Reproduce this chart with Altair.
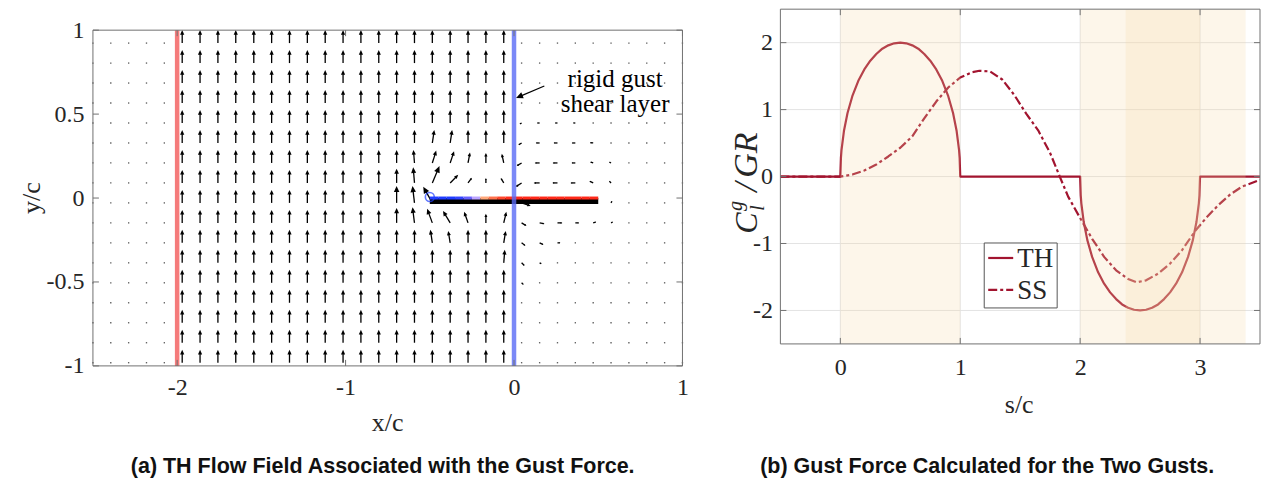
import math
import altair as alt
import pandas as pd

# ===================== data =====================
# ---- (a) flow field: quiver grid (x/c columns, y/c rows) ----
X_COLS = [-2.500, -2.394, -2.288, -2.182, -2.076, -1.970, -1.864, -1.758, -1.652,
          -1.545, -1.439, -1.333, -1.227, -1.121, -1.015, -0.909, -0.803, -0.697,
          -0.591, -0.485, -0.379, -0.273, -0.167, -0.061, 0.045, 0.152, 0.258,
          0.364, 0.470, 0.576, 0.682, 0.788, 0.894, 1.000]
Y_ROWS = [0.923, 0.804, 0.685, 0.566, 0.447, 0.328, 0.209, 0.090, -0.029,
          -0.148, -0.267, -0.386, -0.505, -0.624, -0.743, -0.862, -0.981]
GUST_EDGES = [-2.0, 0.0]          # red (entry) and blue (rigid gust shear layer)
GUST_V = 1.0                      # vertical velocity inside the gust
CALM_V = 0.08                     # residual velocity outside the gust
# (column index, row index, u, v) where the plate disturbs the field
FIELD_OVERRIDES = [
    (19, 5, 0.15, 1.0), (20, 5, 0.15, 1.0),
    (18, 6, -0.08, 1.0), (19, 6, 0.30, 0.95), (20, 6, 0.30, 0.90), (21, 6, 0.15, 0.80),
    (22, 6, 0.0, 0.77), (23, 6, -0.15, 0.70),
    (17, 7, 0.0, 1.10), (18, 7, -0.10, 1.20), (19, 7, 0.55, 1.30), (20, 7, 0.62, 0.62),
    (21, 7, 0.30, 0.40), (22, 7, 0.0, 0.38), (23, 7, -0.23, 0.38),
    (17, 8, 0.0, 1.30), (18, 8, -0.15, 1.30), (19, 8, -0.70, 1.25), (20, 8, 0.2, 0.0),
    (21, 8, 0.2, 0.0), (22, 8, 0.2, 0.0), (23, 8, 0.2, 0.0), (24, 8, 0.70, -0.23),
    (17, 9, 0.0, 1.15), (18, 9, -0.15, 1.20), (19, 9, -0.40, 1.08), (20, 9, -0.55, 0.92),
    (21, 9, -0.30, 0.85), (22, 9, 0.0, 0.70), (23, 9, 0.20, 0.85),
    (19, 10, -0.15, 1.0), (20, 10, -0.15, 0.92), (23, 10, 0.15, 0.92), (23, 11, 0.08, 1.0),
    (24, 3, -0.08, -0.05),
    (24, 4, -0.15, -0.08), (25, 4, -0.20, 0.0), (26, 4, -0.20, 0.0), (27, 4, -0.18, 0.0),
    (28, 4, -0.15, 0.0),
    (24, 5, -0.25, -0.15), (25, 5, -0.30, 0.0), (26, 5, -0.30, 0.0), (27, 5, -0.28, 0.0),
    (28, 5, -0.25, 0.02), (29, 5, -0.10, 0.05),
    (24, 6, -0.38, -0.23), (25, 6, -0.38, 0.0), (26, 6, -0.38, 0.0), (27, 6, -0.30, 0.0),
    (28, 6, -0.23, 0.08), (29, 6, -0.15, 0.08), (30, 6, -0.08, 0.05),
    (24, 7, -0.46, -0.30), (25, 7, -0.46, 0.0), (26, 7, -0.40, 0.0), (27, 7, -0.38, 0.0),
    (28, 7, -0.30, 0.15), (29, 7, -0.15, 0.15), (30, 7, -0.08, 0.08),
    (29, 8, 0.08, 0.15), (30, 8, 0.05, 0.10),
    (24, 9, 0.38, -0.23), (25, 9, 0.38, -0.08), (26, 9, 0.38, 0.0), (27, 9, 0.30, 0.0),
    (28, 9, 0.23, 0.08), (29, 9, 0.15, 0.08), (30, 9, 0.08, 0.08),
    (24, 10, 0.30, -0.23), (25, 10, 0.30, -0.15), (26, 10, 0.23, 0.0), (27, 10, 0.15, 0.0),
    (24, 11, 0.23, -0.23), (25, 11, 0.15, -0.08), (24, 12, 0.15, -0.15),
]
# plate (x/c from -0.5 to 0.5) and its colour-coded loading
PLATE_X = [-0.50, -0.45, -0.40, -0.35, -0.30, -0.25, -0.20, -0.15, -0.10, -0.05, 0.00,
           0.05, 0.10, 0.15, 0.20, 0.25, 0.30, 0.35, 0.40, 0.45, 0.50]
PLATE_LOAD = [-1.0, -1.0, -1.0, -1.0, -0.9, -0.6, -0.1, 0.35, 0.7, 0.95, 1.0,
              1.0, 1.0, 1.0, 1.0, 1.0, 1.0, 1.0, 1.0, 1.0, 1.0]
PLATE_Y = 0.0
ANNOT_LINES = ["rigid gust", "shear layer"]
ANNOT_TEXT_X = 0.60
ANNOT_TEXT_Y = [0.663, 0.512]
ANNOT_ARROW = [(0.18, 0.667), (0.012, 0.596)]   # tail, tip

# ---- (b) gust force ----
TH_S = [-0.5, 0.0, 0.005, 0.01, 0.03, 0.06, 0.1, 0.15, 0.2, 0.25, 0.3, 0.35, 0.4, 0.45, 0.5,
        0.55, 0.6, 0.65, 0.7, 0.75, 0.8, 0.85, 0.9, 0.94, 0.97, 0.99, 0.995, 1.0,
        2.0, 2.005, 2.01, 2.03, 2.06, 2.1, 2.15, 2.2, 2.25, 2.3, 2.35, 2.4, 2.45, 2.5,
        2.55, 2.6, 2.65, 2.7, 2.75, 2.8, 2.85, 2.9, 2.94, 2.97, 2.99, 2.995, 3.0, 3.5]
TH_V = [0.0, 0.0, 0.28, 0.4, 0.68, 0.95, 1.2, 1.43, 1.6, 1.73, 1.83, 1.91, 1.96, 1.99, 2.0,
        1.99, 1.96, 1.91, 1.83, 1.73, 1.6, 1.43, 1.2, 0.95, 0.68, 0.4, 0.28, 0.0,
        0.0, -0.28, -0.4, -0.68, -0.95, -1.2, -1.43, -1.6, -1.73, -1.83, -1.91, -1.96, -1.99, -2.0,
        -1.99, -1.96, -1.91, -1.83, -1.73, -1.6, -1.43, -1.2, -0.95, -0.68, -0.4, -0.28, 0.0, 0.0]
SS_S = [-0.5, 0.0, 0.1, 0.2, 0.3, 0.4, 0.5, 0.6, 0.7, 0.8, 0.9, 1.0, 1.1, 1.16, 1.25, 1.35,
        1.45, 1.55, 1.65, 1.75, 1.83, 1.9, 2.0, 2.1, 2.2, 2.3, 2.4, 2.47, 2.55, 2.65, 2.75,
        2.85, 2.96, 3.05, 3.15, 3.25, 3.35, 3.5]
SS_V = [0.0, 0.0, 0.03, 0.09, 0.18, 0.3, 0.43, 0.6, 0.87, 1.12, 1.33, 1.48, 1.56, 1.58, 1.57,
        1.45, 1.22, 0.94, 0.69, 0.35, 0.0, -0.3, -0.62, -0.93, -1.2, -1.4, -1.53, -1.58, -1.55,
        -1.45, -1.3, -1.1, -0.81, -0.62, -0.43, -0.27, -0.15, -0.05]
GUST_WINDOWS = [(0.0, 1.0), (2.0, 3.0), (2.38, 3.38)]
S_TICKS = [0, 1, 2, 3]
C_TICKS = [-2, -1, 0, 1, 2]
XA_TICKS = [-2, -1, 0, 1]
YA_TICKS = [-1, -0.5, 0, 0.5, 1]
SERIES = ["TH", "SS"]

# ===================== layout / style =====================
SERIF = "Liberation Serif"
SANS = "Liberation Sans"
INK = "#262626"
FRAME = "#707070"
CRIMSON = "#A2142F"
SS_DASH = [9, 3, 3, 3]
A_W, A_H, A_TOP = 590, 357, 21
B_W, B_H = 480, 335
A_XD, A_YD = [-2.5, 1.0], [-1.0, 1.0]
B_XD, B_YD = [-0.5, 3.5], [-2.5, 2.5]
PX_AX = A_W / (A_XD[1] - A_XD[0])
PX_AY = (A_H - A_TOP) / (A_YD[1] - A_YD[0])
PX_BX = B_W / (B_XD[1] - B_XD[0])
PX_BY = B_H / (B_YD[1] - B_YD[0])
ARROW_PX = 13.0
TICK_PX = 6.0
MINUS = "replace(datum.label, '\u2212', '-')"

XS_A = alt.Scale(domain=A_XD, nice=False, zero=False)
YS_A = alt.Scale(domain=A_YD, range=[A_H, A_TOP], nice=False, zero=False)
XS_B = alt.Scale(domain=B_XD, nice=False, zero=False)
YS_B = alt.Scale(domain=B_YD, nice=False, zero=False)


def make_axis(values, pad):
    return alt.Axis(values=values, ticks=False, domain=False, grid=False, labelPadding=pad,
                    labelFlush=False, labelOverlap=False, format="~g", labelFont=SERIF,
                    labelFontSize=24, labelColor=INK, labelExpr=MINUS, title=None)


AXA_X = make_axis(XA_TICKS, 10)
AXA_Y = make_axis(YA_TICKS, 9)
AXB_X = make_axis(S_TICKS, 12)
AXB_Y = make_axis(C_TICKS, 8)


def XA(f):
    return alt.X(f, type="quantitative", scale=XS_A, axis=AXA_X)


def YA(f):
    return alt.Y(f, type="quantitative", scale=YS_A, axis=AXA_Y)


def XB(f):
    return alt.X(f, type="quantitative", scale=XS_B, axis=AXB_X)


def YB(f):
    return alt.Y(f, type="quantitative", scale=YS_B, axis=AXB_Y)


def arrow_geom(x, y, dx, dy, pxx, pxy, head=None):
    L = math.hypot(dx, dy)
    ux, uy = dx / L, dy / L
    h = 0.36 * L if head is None else head
    return dict(
        x=x, y=y,
        x2=x + (dx - 0.5 * h * ux) / pxx, y2=y + (dy - 0.5 * h * uy) / pxy,
        hx=x + (dx - 0.5 * h * ux) / pxx, hy=y + (dy - 0.5 * h * uy) / pxy,
        hs=h * h, ang=(math.degrees(math.atan2(dx, dy)) + 360.0) % 360.0,
    )


# ---------- build field ----------
ov = {(i, k): (u, v) for i, k, u, v in FIELD_OVERRIDES}
arrows, dots = [], []
for k, yv in enumerate(Y_ROWS):
    for i, xv in enumerate(X_COLS):
        if (i, k) in ov:
            u, v = ov[(i, k)]
        elif GUST_EDGES[0] < xv < GUST_EDGES[1]:
            u, v = 0.0, GUST_V
        else:
            u, v = 0.0, CALM_V
        dx, dy = u * ARROW_PX, v * ARROW_PX
        if math.hypot(dx, dy) < 2.0:
            dots.append(dict(x=xv, y=yv))
        else:
            arrows.append(arrow_geom(xv, yv, dx, dy, PX_AX, PX_AY))
arrows_df = pd.DataFrame(arrows)
dots_df = pd.DataFrame(dots)

(tx, ty), (px_, py_) = ANNOT_ARROW
ann_df = pd.DataFrame([arrow_geom(tx, ty, (px_ - tx) * PX_AX, (py_ - ty) * PX_AY,
                                  PX_AX, PX_AY, head=7.0)])
ann_txt = pd.DataFrame({"t": ANNOT_LINES, "x": [ANNOT_TEXT_X] * 2, "y": ANNOT_TEXT_Y})

plate_seg = pd.DataFrame({
    "x": PLATE_X[:-1], "x2": PLATE_X[1:], "y": [PLATE_Y] * (len(PLATE_X) - 1),
    "load": [(a + b) / 2 for a, b in zip(PLATE_LOAD[:-1], PLATE_LOAD[1:])],
})
plate_bar = pd.DataFrame({"x": [PLATE_X[0]], "x2": [PLATE_X[-1]], "y": [PLATE_Y - 0.017]})
le_df = pd.DataFrame({"x": [PLATE_X[0]], "y": [PLATE_Y + 0.006]})
edges_df = pd.DataFrame({"x": GUST_EDGES, "y": [A_YD[0]] * 2, "y2": [A_YD[1]] * 2,
                         "c": ["red", "blue"]})

frame_a = pd.DataFrame({
    "x": [A_XD[0], A_XD[0], A_XD[0], A_XD[1]], "x2": [A_XD[1], A_XD[1], A_XD[0], A_XD[1]],
    "y": [A_YD[0], A_YD[1], A_YD[0], A_YD[0]], "y2": [A_YD[0], A_YD[1], A_YD[1], A_YD[1]],
})
tl = TICK_PX
ticks_a = pd.DataFrame(
    [dict(x=t, x2=t, y=A_YD[0], y2=A_YD[0] + tl / PX_AY) for t in XA_TICKS]
    + [dict(x=t, x2=t, y=A_YD[1], y2=A_YD[1] - tl / PX_AY) for t in XA_TICKS]
    + [dict(x=A_XD[0], x2=A_XD[0] + tl / PX_AX, y=t, y2=t) for t in YA_TICKS]
    + [dict(x=A_XD[1], x2=A_XD[1] - tl / PX_AX, y=t, y2=t) for t in YA_TICKS]
)

one = pd.DataFrame({"a": [0]})


def label(text, x, y, size, angle=0, font=SERIF, weight="normal", style="normal",
          align="center", baseline="middle"):
    return alt.Chart(one).mark_text(
        text=text, font=font, fontSize=size, fontWeight=weight, fontStyle=style,
        angle=angle, align=align, baseline=baseline,
        color=INK if weight == "normal" else "#111111",
    ).encode(x=alt.value(x), y=alt.value(y))


ARROW_HEAD = "M0,-1L0.9,1L-0.9,1Z"

# ---------- panel (a) ----------
shafts = alt.Chart(arrows_df).mark_rule(color="black", strokeWidth=1.3).encode(
    x=XA("x"), y=YA("y"), x2="x2", y2="y2")
heads = alt.Chart(arrows_df).mark_point(
    shape=ARROW_HEAD, filled=True, color="black", opacity=1, strokeWidth=0
).encode(x=XA("hx"), y=YA("hy"), size=alt.Size("hs:Q", scale=None),
         angle=alt.Angle("ang:Q", scale=None))
dot_layer = alt.Chart(dots_df).mark_point(
    shape="square", filled=True, size=1.8, color="#333333", opacity=0.8, strokeWidth=0
).encode(x=XA("x"), y=YA("y"))
edge_layer = alt.Chart(edges_df).mark_rule(strokeWidth=4.5, opacity=0.8).encode(
    x=XA("x"), y=YA("y"), y2="y2",
    color=alt.Color("c:N", scale=alt.Scale(domain=["red", "blue"],
                                           range=["#f25a5a", "#5a6cf5"]), legend=None))
bar_layer = alt.Chart(plate_bar).mark_rule(color="black", strokeWidth=6).encode(
    x=XA("x"), x2="x2", y=YA("y"))
seg_layer = alt.Chart(plate_seg).mark_rule(strokeWidth=3).encode(
    x=XA("x"), x2="x2", y=YA("y"),
    color=alt.Color("load:Q", scale=alt.Scale(domain=[-1, 0, 1],
                                              range=["#1f3cff", "#ffffff", "#ff2a1a"]),
                    legend=None))
le_layer = alt.Chart(le_df).mark_point(shape="circle", filled=False, size=80,
                                       color="#2040ff", strokeWidth=1.6).encode(
    x=XA("x"), y=YA("y"))
ann_shaft = alt.Chart(ann_df).mark_rule(color="black", strokeWidth=1.2).encode(
    x=XA("x"), y=YA("y"), x2="x2", y2="y2")
ann_head = alt.Chart(ann_df).mark_point(
    shape=ARROW_HEAD, filled=True, color="black", opacity=1, strokeWidth=0
).encode(x=XA("hx"), y=YA("hy"), size=alt.Size("hs:Q", scale=None),
         angle=alt.Angle("ang:Q", scale=None))
ann_text = alt.Chart(ann_txt).mark_text(font=SERIF, fontSize=25, color="black",
                                        align="center", baseline="alphabetic").encode(
    x=XA("x"), y=YA("y"), text="t:N")
frame_a_layer = alt.Chart(frame_a).mark_rule(color=FRAME, strokeWidth=1).encode(
    x=XA("x"), x2="x2", y=YA("y"), y2="y2")
ticks_a_layer = alt.Chart(ticks_a).mark_rule(color=FRAME, strokeWidth=1).encode(
    x=XA("x"), x2="x2", y=YA("y"), y2="y2")

panel_a = alt.layer(
    dot_layer, shafts, heads, bar_layer, seg_layer, edge_layer, le_layer,
    ann_shaft, ann_head, ann_text, frame_a_layer, ticks_a_layer,
    label("x/c", 295, 414, 26),
    label("y/c", -61, 189, 26, angle=270),
    label("(a) TH Flow Field Associated with the Gust Force.", 290, 458, 21.5,
          font=SANS, weight="bold"),
).resolve_scale(color="independent").properties(width=A_W, height=A_H)

# ---------- panel (b) ----------
th_df = pd.DataFrame({"s": TH_S, "v": TH_V, "i": range(len(TH_S))})
ss_df = pd.DataFrame({"s": SS_S, "v": SS_V, "i": range(len(SS_S))})
grid_v = pd.DataFrame({"x": S_TICKS, "y": [B_YD[0]] * len(S_TICKS), "y2": [B_YD[1]] * len(S_TICKS)})
grid_h = pd.DataFrame({"y": C_TICKS, "x": [B_XD[0]] * len(C_TICKS), "x2": [B_XD[1]] * len(C_TICKS)})
win_df = pd.DataFrame({"x": [w[0] for w in GUST_WINDOWS], "x2": [w[1] for w in GUST_WINDOWS],
                       "y": [B_YD[0]] * len(GUST_WINDOWS), "y2": [B_YD[1]] * len(GUST_WINDOWS)})
frame_b = pd.DataFrame({
    "x": [B_XD[0], B_XD[0], B_XD[0], B_XD[1]], "x2": [B_XD[1], B_XD[1], B_XD[0], B_XD[1]],
    "y": [B_YD[0], B_YD[1], B_YD[0], B_YD[0]], "y2": [B_YD[0], B_YD[1], B_YD[1], B_YD[1]],
})
ticks_b = pd.DataFrame(
    [dict(x=t, x2=t, y=B_YD[0], y2=B_YD[0] + tl / PX_BY) for t in S_TICKS]
    + [dict(x=t, x2=t, y=B_YD[1], y2=B_YD[1] - tl / PX_BY) for t in S_TICKS]
    + [dict(x=B_XD[0], x2=B_XD[0] + tl / PX_BX, y=t, y2=t) for t in C_TICKS]
    + [dict(x=B_XD[1], x2=B_XD[1] - tl / PX_BX, y=t, y2=t) for t in C_TICKS]
)

gv = alt.Chart(grid_v).mark_rule(color="#e3e3e3", strokeWidth=1, clip=True).encode(
    x=XB("x"), y=YB("y"), y2="y2")
gh = alt.Chart(grid_h).mark_rule(color="#e3e3e3", strokeWidth=1, clip=True).encode(
    x=XB("x"), x2="x2", y=YB("y"))
th_line = alt.Chart(th_df).mark_line(color=CRIMSON, strokeWidth=2.2, strokeJoin="round",
                                     clip=True).encode(
    x=XB("s"), y=YB("v"), order="i:Q")
ss_line = alt.Chart(ss_df).mark_line(color=CRIMSON, strokeWidth=2.2, strokeJoin="round",
                                     strokeDash=SS_DASH, clip=True).encode(
    x=XB("s"), y=YB("v"), order="i:Q")
wins = alt.Chart(win_df).mark_rect(color="#F7DAA8", opacity=0.24, clip=True).encode(
    x=XB("x"), x2="x2", y=YB("y"), y2="y2")
frame_b_layer = alt.Chart(frame_b).mark_rule(color=FRAME, strokeWidth=1).encode(
    x=XB("x"), x2="x2", y=YB("y"), y2="y2")
ticks_b_layer = alt.Chart(ticks_b).mark_rule(color=FRAME, strokeWidth=1).encode(
    x=XB("x"), x2="x2", y=YB("y"), y2="y2")

leg_box = alt.Chart(one).mark_rect(fill="white", stroke="#555555", strokeWidth=1).encode(
    x=alt.value(204), x2=alt.value(277), y=alt.value(234), y2=alt.value(299))
leg_th = alt.Chart(one).mark_rule(color=CRIMSON, strokeWidth=2.2).encode(
    x=alt.value(208), x2=alt.value(233), y=alt.value(249))
leg_ss = alt.Chart(one).mark_rule(color=CRIMSON, strokeWidth=2.2,
                                  strokeDash=SS_DASH).encode(
    x=alt.value(208), x2=alt.value(233), y=alt.value(281))

panel_b = alt.layer(
    gv, gh, th_line, ss_line, wins, frame_b_layer, ticks_b_layer,
    leg_box, leg_th, leg_ss,
    label(SERIES[0], 237, 250, 27, align="left", baseline="middle"),
    label(SERIES[1], 237, 282, 27, align="left", baseline="middle"),
    label("s/c", 239, 396, 26),
    label("C", -33, 214, 32, angle=270, style="italic"),
    label("g", -44, 197, 20, angle=270, style="italic"),
    label("l", -22, 199, 20, angle=270, style="italic"),
    label("/", -33, 178, 34, angle=270, style="italic"),
    label("GR", -33, 146, 34, angle=270, style="italic"),
    label("(b) Gust Force Calculated for the Two Gusts.", 207, 458, 21.5,
          font=SANS, weight="bold"),
).properties(width=B_W, height=B_H)

chart = alt.hconcat(panel_a, panel_b, spacing=36).properties(
    padding={"left": 18, "top": 8, "right": 0, "bottom": 0},
    background="white",
).configure_view(stroke="transparent")

chart.save("out.html", embed_options={"renderer": "svg", "actions": False})
